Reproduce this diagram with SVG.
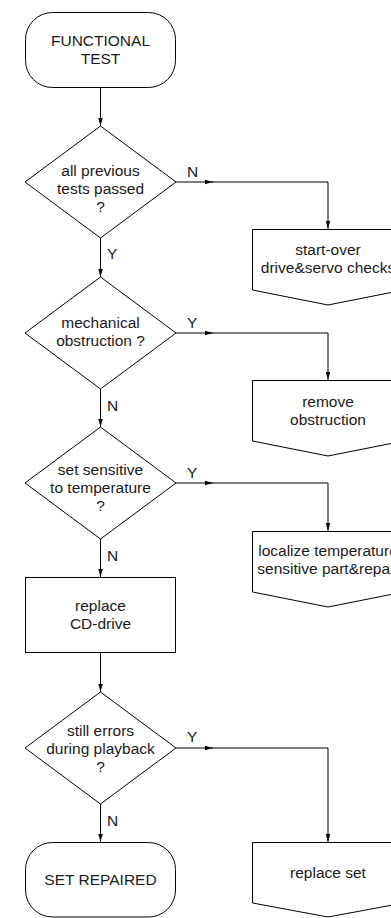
<svg xmlns="http://www.w3.org/2000/svg" width="391" height="918" viewBox="0 0 391 918">
<style>
.s{fill:#fff;stroke:#000;stroke-width:1}
.t{font-family:"Liberation Sans",Arial,sans-serif;font-size:15.5px;fill:#1a1a1a;text-anchor:middle}
.l{font-family:"Liberation Sans",Arial,sans-serif;font-size:15.5px;fill:#1a1a1a}
.c{fill:none;stroke:#000;stroke-width:1}
</style>
<defs>
<marker id="a" viewBox="0 0 8 6" refX="8" refY="3" markerWidth="8" markerHeight="6" markerUnits="userSpaceOnUse" orient="auto">
<path d="M0,0.8 L8,3 L0,5.2 Z" fill="#000"/>
</marker>
</defs>
<rect width="391" height="918" fill="#fff"/>
<g id="connectors">
<path class="c" d="M100.5,87 V126" marker-end="url(#a)"/>
<path class="c" d="M176,182 H213" marker-end="url(#a)"/>
<path class="c" d="M212,182 H328 V229" marker-end="url(#a)"/>
<path class="c" d="M100.5,238 V277" marker-end="url(#a)"/>
<path class="c" d="M176,333 H213" marker-end="url(#a)"/>
<path class="c" d="M212,333 H328 V380" marker-end="url(#a)"/>
<path class="c" d="M100.5,389 V427" marker-end="url(#a)"/>
<path class="c" d="M176,483 H213" marker-end="url(#a)"/>
<path class="c" d="M212,483 H328 V531" marker-end="url(#a)"/>
<path class="c" d="M100.5,539 V577" marker-end="url(#a)"/>
<path class="c" d="M100.5,653 V692" marker-end="url(#a)"/>
<path class="c" d="M176,748 H213" marker-end="url(#a)"/>
<path class="c" d="M212,748 H328 V842" marker-end="url(#a)"/>
<path class="c" d="M100.5,804 V842" marker-end="url(#a)"/>
<text class="l" x="187" y="177">N</text>
<text class="l" x="107" y="259">Y</text>
<text class="l" x="187" y="328">Y</text>
<text class="l" x="107" y="411">N</text>
<text class="l" x="187" y="478">Y</text>
<text class="l" x="107" y="561">N</text>
<text class="l" x="187" y="742">Y</text>
<text class="l" x="107" y="826">N</text>
</g>
<g id="start">
<rect class="s" x="25.5" y="12.5" width="150" height="75" rx="27" ry="27"/>
<text class="t" x="100.5" y="46">FUNCTIONAL</text>
<text class="t" x="100.5" y="64">TEST</text>
</g>
<g id="d1">
<path class="s" d="M100.5,126 L176,182 L100.5,238 L25,182 Z"/>
<text class="t" x="100.5" y="176">all previous</text>
<text class="t" x="100.5" y="194">tests passed</text>
<text class="t" x="100.5" y="212">?</text>
</g>
<g id="b1">
<path class="s" d="M252.5,229.5 H403.5 V290 L328,305 L252.5,290 Z"/>
<text class="t" x="328" y="255">start-over</text>
<text class="t" x="328" y="273">drive&amp;servo checks</text>
</g>
<g id="d2">
<path class="s" d="M100.5,277 L176,333 L100.5,389 L25,333 Z"/>
<text class="t" x="100.5" y="328">mechanical</text>
<text class="t" x="100.5" y="346">obstruction ?</text>
</g>
<g id="b2">
<path class="s" d="M252.5,380.5 H403.5 V441 L328,456 L252.5,441 Z"/>
<text class="t" x="328" y="407">remove</text>
<text class="t" x="328" y="425">obstruction</text>
</g>
<g id="d3">
<path class="s" d="M100.5,427 L176,483 L100.5,539 L25,483 Z"/>
<text class="t" x="100.5" y="475">set sensitive</text>
<text class="t" x="100.5" y="493">to temperature</text>
<text class="t" x="100.5" y="511">?</text>
</g>
<g id="b3">
<path class="s" d="M252.5,531.5 H403.5 V592 L328,607 L252.5,592 Z"/>
<text class="t" x="328" y="556">localize temperature</text>
<text class="t" x="328" y="574">sensitive part&amp;repair</text>
</g>
<g id="r1">
<rect class="s" x="25.5" y="577.5" width="150" height="75"/>
<text class="t" x="100.5" y="611">replace</text>
<text class="t" x="100.5" y="629">CD-drive</text>
</g>
<g id="d4">
<path class="s" d="M100.5,692 L176,748 L100.5,804 L25,748 Z"/>
<text class="t" x="100.5" y="736">still errors</text>
<text class="t" x="100.5" y="754">during playback</text>
<text class="t" x="100.5" y="772">?</text>
</g>
<g id="b4">
<path class="s" d="M252.5,842.5 H403.5 V903 L328,917 L252.5,903 Z"/>
<text class="t" x="328" y="878">replace set</text>
</g>
<g id="end">
<rect class="s" x="25.5" y="842.5" width="150" height="74.5" rx="27" ry="27"/>
<text class="t" x="100.5" y="885">SET REPAIRED</text>
</g>
</svg>
